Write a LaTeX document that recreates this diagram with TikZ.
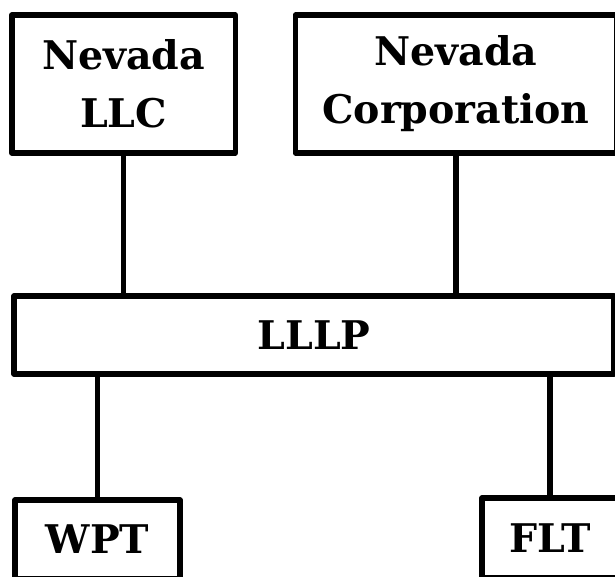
\documentclass[tikz,border=0pt]{standalone}
\usepackage{fontspec}
\setmainfont{DejaVu Serif}
\begin{document}
\begin{tikzpicture}[x=1pt,y=-1pt,
  entity/.style={draw=black, line width=5.5pt, line join=round, fill=white,
    inner sep=0pt, align=center,
    font=\fontsize{39.5}{58}\selectfont\bfseries},
  link/.style={draw=black, line width=5.5pt}]
  \useasboundingbox (0,0) rectangle (615,576);
  \clip (0,0) rectangle (615,576);

  % owners
  \node[entity, minimum width=223.5pt, minimum height=138pt] (llc) at (123.5,84) {Nevada\\LLC};
  \node[entity, minimum width=321pt, minimum height=138pt] (corp) at (456,84) {Nevada\\Corporation};

  % partnership
  \node[entity, minimum width=600pt, minimum height=78pt] (lllp) at (314,335) {LLLP};

  % subsidiaries
  \node[entity, minimum width=165pt, minimum height=79pt] (wpt) at (97.5,539.5) {WPT};
  \node[entity, minimum width=136pt, minimum height=80pt] (flt) at (550,538) {FLT};

  % connectors
  \draw[link] (llc.south) -- (llc.south |- lllp.north);
  \draw[link] (corp.south) -- (corp.south |- lllp.north);
  \draw[link] (wpt.north |- lllp.south) -- (wpt.north);
  \draw[link] (flt.north |- lllp.south) -- (flt.north);
\end{tikzpicture}
\end{document}
